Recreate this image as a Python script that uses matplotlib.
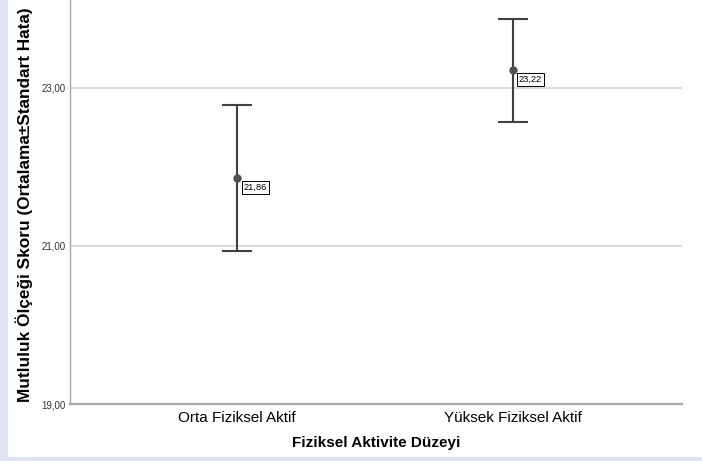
import matplotlib
matplotlib.use("Agg")
import matplotlib.pyplot as plt
import matplotlib.patches as mpatches
from matplotlib.ticker import FuncFormatter

plt.rcParams["font.family"] = ["Liberation Sans", "DejaVu Sans"]

# data
groups = ["Orta Fiziksel Aktif", "Yüksek Fiziksel Aktif"]
means = [21.86, 23.22]
errors = [0.925, 0.655]
yticks = [19, 21, 23]

fig = plt.figure(figsize=(7.02, 4.61), dpi=100)
fig.patch.set_facecolor("#dfe3f1")
# white panel inside the lavender frame
fig.add_artist(mpatches.Rectangle((8 / 702, 4 / 461), 1, 1, transform=fig.transFigure,
                                  facecolor="white", edgecolor="none", zorder=0))

ax = fig.add_axes([70 / 702, 57 / 461, 612 / 702, 404 / 461])
ax.set_facecolor("white")

x = list(range(len(groups)))
ax.errorbar(x, means, yerr=errors, fmt="o", color="#404040", ecolor="#404040",
            markersize=5, markerfacecolor="#505050", markeredgecolor="#505050",
            elinewidth=1.5, capsize=10.8, capthick=1.5, zorder=3)

for xi, m in zip(x, means):
    ax.annotate(f"{m:.2f}".replace(".", ","), xy=(xi, m), xytext=(4.5, -3.5),
                textcoords="offset points", ha="left", va="top", fontsize=6.7,
                bbox=dict(boxstyle="square,pad=0.2", facecolor="white",
                          edgecolor="black", linewidth=0.7), zorder=4)

ax.set_xlim(-0.607, 1.615)
ax.set_ylim(19, 24.11)
ax.set_xticks(x)
ax.set_xticklabels(groups, fontsize=11)
ax.set_yticks(yticks)
ax.yaxis.set_major_formatter(FuncFormatter(lambda v, p: f"{v:.2f}".replace(".", ",")))
ax.tick_params(axis="y", length=0, pad=3, labelsize=7, labelcolor="#333333")
ax.tick_params(axis="x", length=0, pad=5)

ax.grid(axis="y", color="#d4d4d4", linewidth=1.2)
ax.set_axisbelow(True)

for side in ["top", "right"]:
    ax.spines[side].set_visible(False)
ax.spines["left"].set_color("#a8a8a8")
ax.spines["left"].set_linewidth(1.0)
ax.spines["bottom"].set_color("#a8a8a8")
ax.spines["bottom"].set_linewidth(1.6)

ax.set_xlabel("Fiziksel Aktivite Düzeyi", fontsize=11, fontweight="bold", labelpad=8)
fig.text(24 / 702, (461 - 205) / 461, "Mutluluk Ölçeği Skoru (Ortalama±Standart Hata)",
         rotation=90, ha="center", va="center", fontsize=12.4, fontweight="bold")

fig.savefig("out.png", dpi=100, facecolor=fig.get_facecolor())
